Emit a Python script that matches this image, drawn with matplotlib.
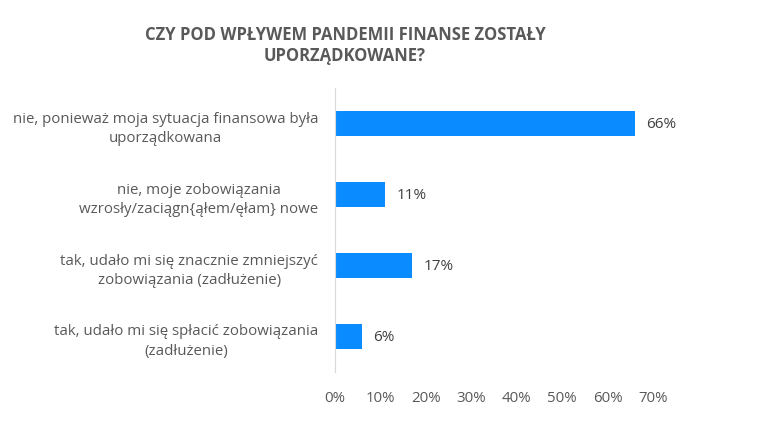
import matplotlib.pyplot as plt
from matplotlib.ticker import PercentFormatter

# dane z wykresu
categories = [
    "nie, ponieważ moja sytuacja finansowa była\nuporządkowana",
    "nie, moje zobowiązania\nwzrosły/zaciągn{ąłem/ęłam} nowe",
    "tak, udało mi się znacznie zmniejszyć\nzobowiązania (zadłużenie)",
    "tak, udało mi się spłacić zobowiązania\n(zadłużenie)",
]
values = [0.66, 0.11, 0.17, 0.06]
value_labels = ["66%", "11%", "17%", "6%"]
x_ticks = [0, 0.1, 0.2, 0.3, 0.4, 0.5, 0.6, 0.7]

title = "CZY POD WPŁYWEM PANDEMII FINANSE ZOSTAŁY\nUPORZĄDKOWANE?"

plt.rcParams['font.family'] = ['Open Sans', 'DejaVu Sans']
text_color = '#595959'
bar_color = '#0A8BFF'

fig = plt.figure(figsize=(7.63, 4.27), dpi=100)
ax = fig.add_axes([0.439, 0.1265, 0.417, 0.665])

y = list(range(len(categories)))
ax.barh(y, values, height=0.35, color=bar_color)
ax.set_ylim(len(categories) - 0.5, -0.5)
ax.set_xlim(0, 0.7)

ax.set_yticks(y)
ax.set_yticklabels(categories, multialignment='center', fontsize=10.8,
                   color=text_color, linespacing=1.4)
ax.set_xticks(x_ticks)
ax.xaxis.set_major_formatter(PercentFormatter(1.0, decimals=0))
ax.tick_params(axis='x', length=0, labelsize=10.8, labelcolor=text_color, pad=13)
ax.tick_params(axis='y', length=0, pad=12)

for s in ['top', 'right', 'bottom']:
    ax.spines[s].set_visible(False)
ax.spines['left'].set_color('#D9D9D9')

for i, v in enumerate(values):
    ax.text(v + 0.025, i, value_labels[i], va='center', ha='left',
            fontsize=11, color='#404040')

fig.text(0.452, 0.893, title, ha='center', va='center', fontsize=12,
         fontweight='bold', color=text_color, linespacing=1.25)

fig.savefig('out.png', dpi=100)
